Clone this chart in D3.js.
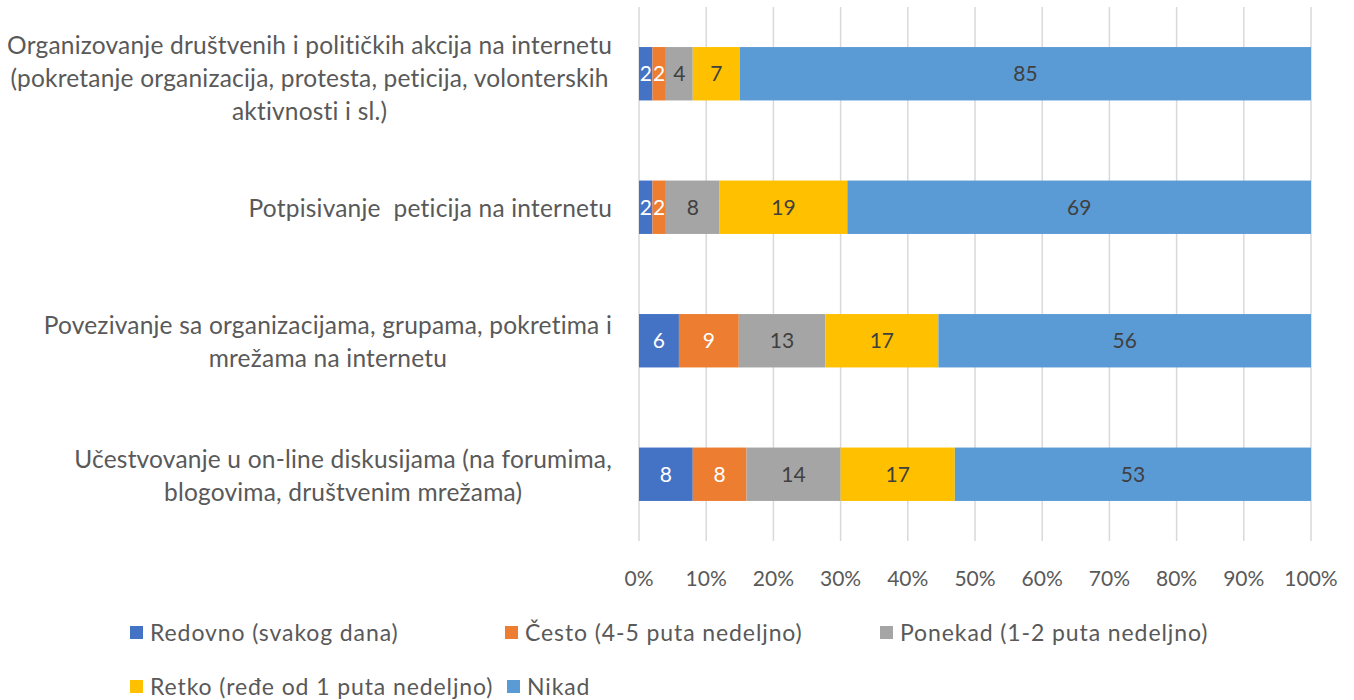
<!DOCTYPE html>
<html>
<head>
<meta charset="utf-8">
<script src="https://cdn.jsdelivr.net/npm/d3@7"></script>
<style>
  body { margin: 0; background: #fff; }
  svg { font-family: Lato, "Open Sans", sans-serif; }
</style>
</head>
<body>
<div id="chart"></div>
<script>
const categories = [
  ['Organizovanje društvenih i političkih akcija na internetu', '(pokretanje organizacija, protesta, peticija, volonterskih', 'aktivnosti i sl.)'],
  ['Potpisivanje  peticija na internetu'],
  ['Povezivanje sa organizacijama, grupama, pokretima i', 'mrežama na internetu'],
  ['Učestvovanje u on-line diskusijama (na forumima,', 'blogovima, društvenim mrežama)']
];
const seriesNames = ['Redovno (svakog dana)', 'Često (4-5 puta nedeljno)', 'Ponekad (1-2 puta nedeljno)', 'Retko (ređe od 1 puta nedeljno)', 'Nikad'];
const redovno = [2, 2, 6, 8];
const cesto = [2, 2, 9, 8];
const ponekad = [4, 8, 13, 14];
const retko = [7, 19, 17, 17];
const nikad = [85, 69, 56, 53];
const tickLabels = ['0%', '10%', '20%', '30%', '40%', '50%', '60%', '70%', '80%', '90%', '100%'];

const colours = ['#4472C4', '#ED7D31', '#A5A5A5', '#FFC000', '#5B9BD5'];
const labelColours = ['#ffffff', '#ffffff', '#404040', '#404040', '#404040'];

const width = 1354;
const height = 700;
const margin = { top: 7, right: 43, bottom: 159, left: 639 };

const svg = d3.select('#chart')
  .append('svg')
  .attr('width', width)
  .attr('height', height);

const series = [redovno, cesto, ponekad, retko, nikad];
const rows = categories.map((c, i) => {
  const row = { index: i };
  series.forEach((s, k) => { row[k] = s[i]; });
  return row;
});

// 100% stacked: normalise each row by its total
const stack = d3.stack()
  .keys(d3.range(series.length))
  .offset(d3.stackOffsetExpand);
const stacked = stack(rows);

const x = d3.scaleLinear()
  .domain([0, 1])
  .range([margin.left, width - margin.right]);

const y = d3.scaleBand()
  .domain(d3.range(categories.length))
  .range([margin.top, height - margin.bottom])
  .paddingInner(0.6)
  .paddingOuter(0.3);

// gridlines
svg.append('g')
  .selectAll('line')
  .data(d3.range(0, 1.0001, 0.1))
  .join('line')
  .attr('x1', d => x(d))
  .attr('x2', d => x(d))
  .attr('y1', margin.top)
  .attr('y2', height - margin.bottom)
  .attr('stroke', '#d9d9d9')
  .attr('stroke-width', 1.5);

// bars
const layers = svg.append('g')
  .selectAll('g')
  .data(stacked)
  .join('g')
  .attr('fill', (d, k) => colours[k]);

layers.selectAll('rect')
  .data(d => d)
  .join('rect')
  .attr('x', d => x(d[0]))
  .attr('width', d => x(d[1]) - x(d[0]))
  .attr('y', (d, i) => y(i))
  .attr('height', y.bandwidth());

// value labels
layers.each(function (layer, k) {
  d3.select(this).selectAll('text')
    .data(layer)
    .join('text')
    .attr('x', d => (x(d[0]) + x(d[1])) / 2)
    .attr('y', (d, i) => y(i) + y.bandwidth() / 2)
    .attr('dy', '0.36em')
    .attr('text-anchor', 'middle')
    .attr('font-size', 21)
    .attr('fill', labelColours[k])
    .text((d, i) => series[k][i]);
});

// x axis tick labels
svg.append('g')
  .selectAll('text')
  .data(tickLabels)
  .join('text')
  .attr('x', (d, i) => x(i / 10))
  .attr('y', 586)
  .attr('text-anchor', 'middle')
  .attr('font-size', 21)
  .attr('fill', '#595959')
  .text(d => d);

// category labels, centred lines in a block right-aligned to the axis
const lineHeight = 33;
const catGroup = svg.append('g');
categories.forEach((lines, i) => {
  const g = catGroup.append('g');
  const cy = y(i) + y.bandwidth() / 2 + (lines.length === 3 ? 4 : 1);
  const texts = g.selectAll('text')
    .data(lines)
    .join('text')
    .attr('y', (d, j) => cy + (j - (lines.length - 1) / 2) * lineHeight)
    .attr('dy', '0.36em')
    .attr('text-anchor', 'middle')
    .attr('font-size', 24.5)
    .attr('letter-spacing', 0.2)
    .attr('fill', '#595959')
    .style('white-space', 'pre')
    .text(d => d);
  let maxW = 0;
  texts.each(function () { maxW = Math.max(maxW, this.getComputedTextLength()); });
  texts.attr('x', margin.left - 27 - maxW / 2);
});

// legend
const legendPos = [
  [130, 633], [505, 633], [880, 633],
  [130, 687], [507, 687]
];
const legend = svg.append('g')
  .selectAll('g')
  .data(seriesNames)
  .join('g')
  .attr('transform', (d, k) => `translate(${legendPos[k][0]},${legendPos[k][1]})`);

legend.append('rect')
  .attr('x', 0)
  .attr('y', -7)
  .attr('width', 13)
  .attr('height', 13)
  .attr('fill', (d, k) => colours[k]);

legend.append('text')
  .attr('x', 20)
  .attr('dy', '0.36em')
  .attr('font-size', 23)
  .attr('letter-spacing', 0.9)
  .attr('fill', '#595959')
  .text(d => d);
</script>
</body>
</html>
